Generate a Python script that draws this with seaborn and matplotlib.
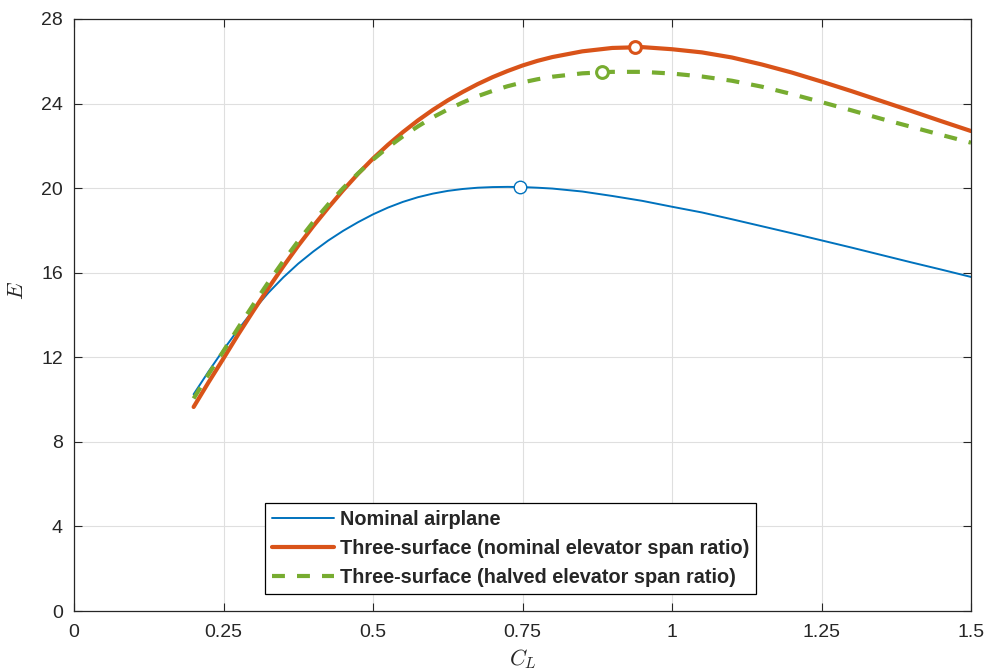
import numpy as np
import pandas as pd
import matplotlib
matplotlib.use("Agg")
import matplotlib.pyplot as plt
import seaborn as sns

# lift coefficient samples (denser where the curves bend most)
cl = [0.200, 0.225, 0.250, 0.275, 0.300, 0.325, 0.350, 0.375, 0.400, 0.425,
      0.450, 0.475, 0.500, 0.525, 0.550, 0.575, 0.600, 0.625, 0.650, 0.675,
      0.700, 0.725, 0.750, 0.775, 0.800,
      0.85, 0.90, 0.95, 1.00, 1.05, 1.10, 1.15, 1.20, 1.25, 1.30, 1.35,
      1.40, 1.45, 1.50]

# aerodynamic efficiency E
e_nominal = [10.25, 11.33, 12.36, 13.33, 14.23, 15.05, 15.78, 16.43, 17.0, 17.52,
             17.98, 18.39, 18.76, 19.08, 19.35, 19.57, 19.74, 19.87, 19.96, 20.02,
             20.05, 20.06, 20.05, 20.02, 19.98,
             19.84, 19.63, 19.4, 19.12, 18.85, 18.53, 18.2, 17.87, 17.53, 17.19, 16.84,
             16.49, 16.15, 15.8]
e_three_nom = [9.65, 10.82, 11.95, 13.1, 14.2, 15.27, 16.3, 17.28, 18.2, 19.07,
               19.9, 20.68, 21.4, 22.05, 22.65, 23.2, 23.7, 24.15, 24.55, 24.92,
               25.25, 25.54, 25.8, 26.02, 26.2,
               26.47, 26.63, 26.67, 26.57, 26.42, 26.18, 25.85, 25.47, 25.04, 24.59, 24.12,
               23.65, 23.17, 22.7]
e_three_half = [10.05, 11.2, 12.3, 13.42, 14.5, 15.55, 16.55, 17.5, 18.4, 19.23,
                20.0, 20.7, 21.35, 21.93, 22.45, 22.92, 23.35, 23.72, 24.05, 24.35,
                24.6, 24.82, 25.0, 25.15, 25.27,
                25.43, 25.5, 25.5, 25.42, 25.28, 25.08, 24.8, 24.45, 24.07, 23.68, 23.28,
                22.9, 22.52, 22.15]

# maximum-efficiency points
max_cl = [0.745, 0.938, 0.883]
max_e = [20.05, 26.67, 25.5]

labels = ["Nominal airplane",
          "Three-surface (nominal elevator span ratio)",
          "Three-surface (halved elevator span ratio)"]
colors = ["#0072BD", "#D95319", "#77AC30"]

sns.set_theme(style="whitegrid")
plt.rcParams["font.family"] = ["Liberation Sans", "DejaVu Sans"]
plt.rcParams["mathtext.fontset"] = "cm"

fig = plt.figure(figsize=(9.87, 6.71), dpi=100)
ax = fig.add_axes([0.075, 0.0894, 0.9088, 0.8823])

sns.lineplot(x=cl, y=e_nominal, ax=ax, color=colors[0], linewidth=1.4,
             label=labels[0], sort=False)
sns.lineplot(x=cl, y=e_three_nom, ax=ax, color=colors[1], linewidth=3.0,
             label=labels[1], sort=False)
sns.lineplot(x=cl, y=e_three_half, ax=ax, color=colors[2], linewidth=3.0,
             linestyle=(0, (3.1, 2.9)), label=labels[2], sort=False)

# peak markers
ax.plot(max_cl[0], max_e[0], "o", ms=9, mfc="white", mec=colors[0], mew=1.0, zorder=5)
ax.plot(max_cl[1], max_e[1], "o", ms=8.5, mfc="white", mec=colors[1], mew=2.2, zorder=5)
ax.plot(max_cl[2], max_e[2], "o", ms=8.5, mfc="white", mec=colors[2], mew=2.2, zorder=5)

ax.set_xlim(0, 1.5)
ax.set_ylim(0, 28)
ax.set_xticks([0, 0.25, 0.5, 0.75, 1, 1.25, 1.5])
ax.set_xticklabels(["0", "0.25", "0.5", "0.75", "1", "1.25", "1.5"])
ax.set_yticks(range(0, 29, 4))

ax.set_xlabel(r"$C_L$", fontsize=16, labelpad=5)
ax.set_ylabel(r"$E$", fontsize=16)
ax.yaxis.set_label_coords(-0.051, 0.542)

ax.set_facecolor("white")
ax.grid(True, color="#dfdfdf", linewidth=0.8)
for s in ax.spines.values():
    s.set_visible(True)
    s.set_color("#262626")
    s.set_linewidth(0.9)
ax.tick_params(direction="in", length=6, width=0.8, color="#262626",
               labelsize=14, labelcolor="#262626", top=True, right=True,
               bottom=True, left=True)
ax.tick_params(axis="x", pad=9)
ax.tick_params(axis="y", pad=8)

leg = ax.legend(loc="lower center", bbox_to_anchor=(0.4866, 0.0287),
                borderaxespad=0, fancybox=False, framealpha=1,
                edgecolor="black", handlelength=3.1, handletextpad=0.3,
                labelspacing=0.5, borderpad=0.35,
                prop={"family": ["Liberation Sans", "DejaVu Sans"],
                      "weight": "bold", "size": 14.3})
leg.get_frame().set_linewidth(0.9)

fig.savefig("out.png", dpi=100, facecolor="white")
